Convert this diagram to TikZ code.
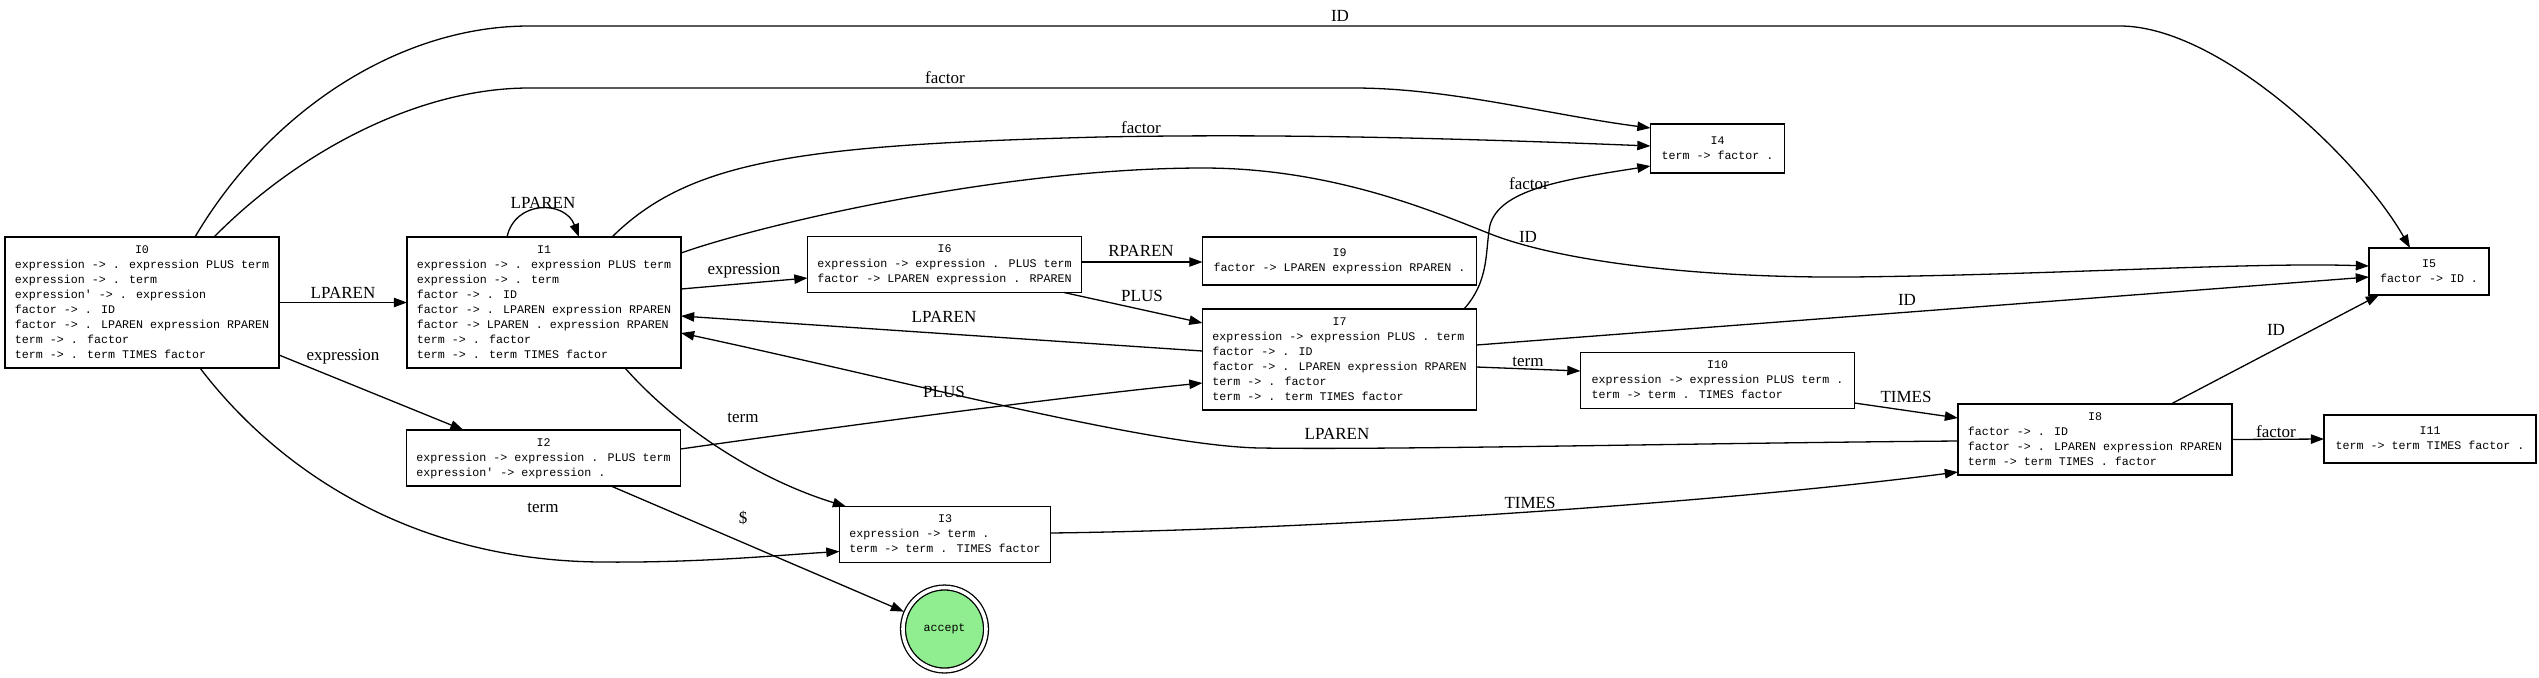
\documentclass[tikz,border=0pt]{standalone}
\usepackage{fontspec}
\setmainfont{Liberation Serif}
\newfontfamily\monof{Liberation Mono}
\usetikzlibrary{arrows.meta,calc}
\definecolor{lgreen}{RGB}{144,238,144}
\newcommand{\stt}[2]{\begin{tabular}{@{}l@{}}\multicolumn{1}{@{}c@{}}{#1}\\#2\end{tabular}}
\begin{document}
\begin{tikzpicture}[x=0.5pt,y=-0.5pt,
  state/.style={draw, line width=0.65pt, rectangle, inner sep=0pt, outer sep=0pt,
    font=\monof\fontsize{5.83}{7.5}\selectfont},
  lbl/.style={inner sep=0pt, font=\fontsize{8.5}{10}\selectfont},
  tr/.style={-{Triangle[length=6.6pt,width=4.7pt]}, line width=0.65pt}]
\fill[white] (0,0) rectangle (2539,677);
\useasboundingbox (0,0) rectangle (2539,677);

% ---------- states ----------
\node[state, minimum width=137pt, minimum height=65.5pt] (I0) at (142,302.5)
 {\stt{I0}{expression -> . expression PLUS term\\expression -> . term\\expression' -> . expression\\factor -> . ID\\factor -> . LPAREN expression RPAREN\\term -> . factor\\term -> . term TIMES factor}};
\node[state, minimum width=137pt, minimum height=65.5pt] (I1) at (544,302.5)
 {\stt{I1}{expression -> . expression PLUS term\\expression -> . term\\factor -> . ID\\factor -> . LPAREN expression RPAREN\\factor -> LPAREN . expression RPAREN\\term -> . factor\\term -> . term TIMES factor}};
\node[state, minimum width=137pt, minimum height=28pt] (I2) at (543.5,458)
 {\stt{I2}{expression -> expression . PLUS term\\expression' -> expression .}};
\node[state, minimum width=105.5pt, minimum height=28pt] (I3) at (945,534.5)
 {\stt{I3}{expression -> term .\\term -> term . TIMES factor}};
\node[state, minimum width=67pt, minimum height=24.5pt] (I4) at (1717.5,148.5)
 {\stt{I4}{term -> factor .}};
\node[state, minimum width=60pt, minimum height=23.5pt] (I5) at (2429,271.5)
 {\stt{I5}{factor -> ID .}};
\node[state, minimum width=137pt, minimum height=28pt] (I6) at (944.5,264.5)
 {\stt{I6}{expression -> expression . PLUS term\\factor -> LPAREN expression . RPAREN}};
\node[state, minimum width=137pt, minimum height=24pt] (I9) at (1339.5,261)
 {\stt{I9}{factor -> LPAREN expression RPAREN .}};
\node[state, minimum width=137pt, minimum height=50.5pt] (I7) at (1339.5,359.5)
 {\stt{I7}{expression -> expression PLUS . term\\factor -> . ID\\factor -> . LPAREN expression RPAREN\\term -> . factor\\term -> . term TIMES factor}};
\node[state, minimum width=137pt, minimum height=28pt] (I10) at (1717.5,380.5)
 {\stt{I10}{expression -> expression PLUS term .\\term -> term . TIMES factor}};
\node[state, minimum width=137pt, minimum height=35.5pt] (I8) at (2095,439.5)
 {\stt{I8}{factor -> . ID\\factor -> . LPAREN expression RPAREN\\term -> term TIMES . factor}};
\node[state, minimum width=106pt, minimum height=24pt] (I11) at (2430,439)
 {\stt{I11}{term -> term TIMES factor .}};
\node[circle, draw, line width=0.65pt, double, double distance=1.8pt, fill=lgreen,
  inner sep=0pt, outer sep=1.3pt, minimum size=41.5pt,
  font=\monof\fontsize{5.83}{7.5}\selectfont] (acc) at (944.5,629) {accept};

% ---------- transitions ----------
\draw[tr] ($(I0.north)+(53,0)$) .. controls (270,110) and (400,26) .. (529,26) -- (2120,26)
  .. controls (2220,26) and (2360,160) .. ($(I5.north)+(-19,0)$);
\draw[tr] ($(I0.north)+(72,0)$) .. controls (300,150) and (420,88) .. (529,88) -- (1354,88)
  .. controls (1450,88) and (1550,115) .. ($(I4.west)+(0,-20.5)$);
\draw[tr] (I0.east) -- (I1.west);
\draw[tr] ($(I0.east)+(0,52.5)$) -- ($(I2.north)+(-80,0)$);
\draw[tr] ($(I0.south)+(58,0)$) .. controls (270,460) and (400,560) .. (600,562)
  .. controls (700,563) and (780,555) .. ($(I3.west)+(0,17)$);
\draw[tr] ($(I1.north)+(-37,0)$) .. controls (515,200) and (565,200) .. ($(I1.north)+(35,0)$);
\draw[tr] ($(I1.north)+(68,0)$) .. controls (690,160) and (800,145) .. (1100,137)
  .. controls (1300,133) and (1500,140) .. ($(I4.west)+(0,-2.5)$);
\draw[tr] ($(I1.east)+(0,-49.5)$) .. controls (760,225) and (1000,168) .. (1203,168)
  .. controls (1330,168) and (1430,210) .. (1488,233)
  .. controls (1560,262) and (1700,278) .. (1850,277)
  .. controls (2050,275) and (2250,262) .. ($(I5.west)+(0,-5.5)$);
\draw[tr] ($(I1.east)+(0,-13.5)$) -- ($(I6.west)+(0,13.5)$);
\draw[tr] ($(I1.south)+(81,0)$) .. controls (680,430) and (760,480) .. ($(I3.north)+(-99,0)$);
\draw[tr] ($(I2.east)+(0,-9)$) .. controls (800,432) and (1050,398) .. ($(I7.west)+(0,23.5)$);
\draw[tr] ($(I2.south)+(67.5,0)$) -- (acc);
\draw[tr] ($(I3.east)+(0,-1.5)$) .. controls (1300,530) and (1700,505) .. ($(I8.west)+(0,32.5)$);
\draw[tr] ($(I6.east)+(0,-2.5)$) -- ($(I9.west)+(0,1)$);
\draw[tr] ($(I6.south)+(119.5,0)$) -- ($(I7.west)+(0,-36.5)$);
\draw[tr] ($(I7.west)+(0,-8.5)$) -- ($(I1.east)+(0,13.5)$);
\draw[tr] ($(I7.north)+(124.5,0)$) .. controls (1490,280) and (1485,250) .. (1490,225)
  .. controls (1500,190) and (1560,180) .. ($(I4.west)+(0,17.5)$);
\draw[tr] ($(I7.east)+(0,-14.5)$) -- ($(I5.west)+(0,5.5)$);
\draw[tr] ($(I7.east)+(0,7.5)$) -- ($(I10.west)+(0,-9.5)$);
\draw[tr] ($(I10.east)+(0,22.5)$) -- ($(I8.west)+(0,-21.5)$);
\draw[tr] ($(I8.west)+(0,1.5)$) .. controls (1700,443) and (1400,450) .. (1260,448)
  .. controls (1150,446) and (900,380) .. ($(I1.east)+(0,30.5)$);
\draw[tr] ($(I8.north)+(76,0)$) -- ($(I5.south)+(-50,0)$);
\draw[tr] (I8.east) -- (I11.west);

% ---------- labels ----------
\node[lbl] (l1) at (1340,16) {ID};
\node[lbl] (l2) at (945,78) {factor};
\node[lbl] (l3) at (343,293) {LPAREN};
\node[lbl] (l4) at (343,357) {expression};
\node[lbl] (l5) at (543,508) {term};
\node[lbl] (l6) at (543,203) {LPAREN};
\node[lbl] (l7) at (1141,128) {factor};
\node[lbl] (l8) at (1528,237) {ID};
\node[lbl] (l9) at (744,271) {expression};
\node[lbl] (l10) at (743,418) {term};
\node[lbl] (l11) at (944,392) {PLUS};
\node[lbl] (l12) at (743,518) {\$};
\node[lbl] (l13) at (1530,503) {TIMES};
\node[lbl] (l14) at (1141,251) {RPAREN};
\node[lbl] (l15) at (1142,296) {PLUS};
\node[lbl] (l16) at (944,317) {LPAREN};
\node[lbl] (l17) at (1529,184) {factor};
\node[lbl] (l18) at (1907,300) {ID};
\node[lbl] (l19) at (1528,362) {term};
\node[lbl] (l20) at (1906,397) {TIMES};
\node[lbl] (l21) at (1337,434) {LPAREN};
\node[lbl] (l22) at (2276,330) {ID};
\node[lbl] (l23) at (2276,432) {factor};
\end{tikzpicture}
\end{document}
